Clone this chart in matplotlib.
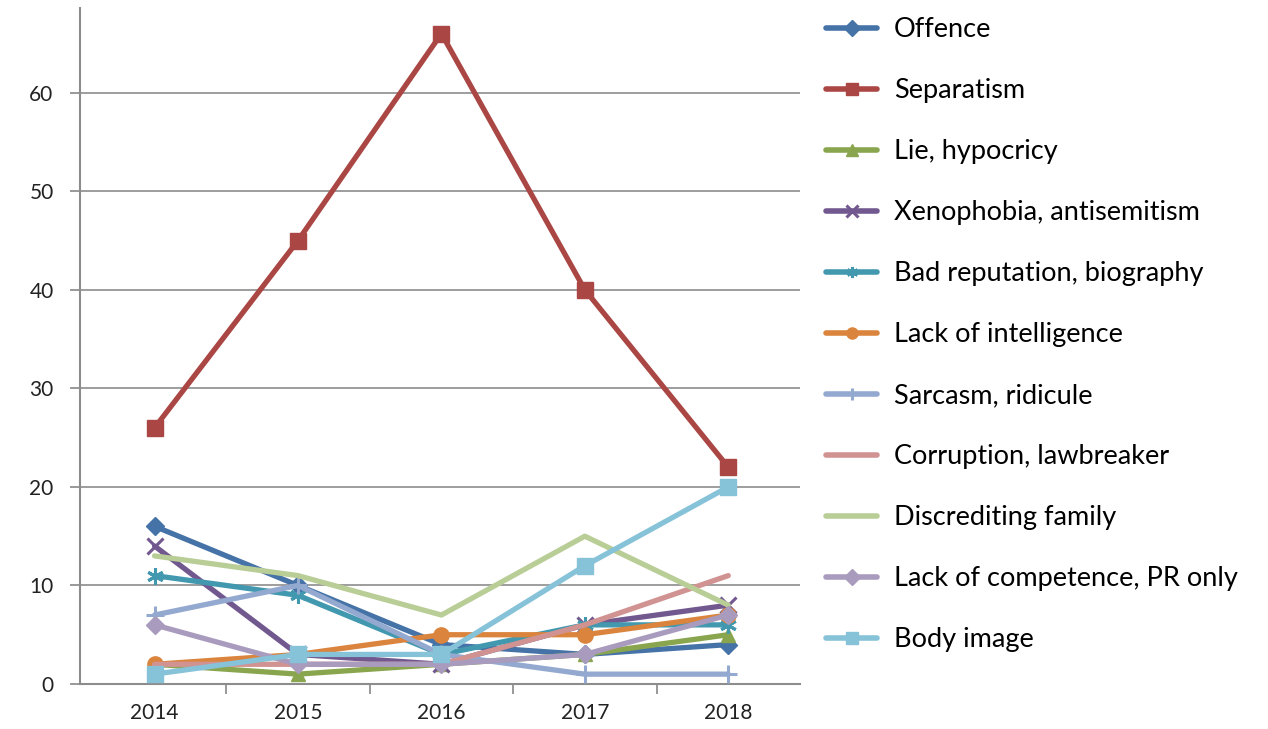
import matplotlib
matplotlib.use("Agg")
import matplotlib.pyplot as plt

years = ["2014", "2015", "2016", "2017", "2018"]
series_names = [
    "Offence", "Separatism", "Lie, hypocricy", "Xenophobia, antisemitism",
    "Bad reputation, biography", "Lack of intelligence", "Sarcasm, ridicule",
    "Corruption, lawbreaker", "Discrediting family",
    "Lack of competence, PR only", "Body image",
]
offence = [16, 10, 4, 3, 4]
separatism = [26, 45, 66, 40, 22]
lie = [2, 1, 2, 3, 5]
xenophobia = [14, 3, 2, 6, 8]
bad_reputation = [11, 9, 3, 6, 6]
lack_intelligence = [2, 3, 5, 5, 7]
sarcasm = [7, 10, 3, 1, 1]
corruption = [2, 2, 2, 6, 11]
discrediting_family = [13, 11, 7, 15, 8]
lack_competence = [6, 2, 2, 3, 7]
body_image = [1, 3, 3, 12, 20]

values = [offence, separatism, lie, xenophobia, bad_reputation,
          lack_intelligence, sarcasm, corruption, discrediting_family,
          lack_competence, body_image]
colors = ["#4572A7", "#AA4643", "#89A54E", "#71588F", "#4198AF", "#DB843D",
          "#93A9CF", "#D19392", "#B9CD96", "#A99BBD", "#86C2D8"]
markers = ["D", "s", "^", "x", (6, 2, 0), "o", "+", None, None, "D", "s"]
msizes = [9, 11, 10, 11, 12, 11, 13, 0, 0, 9, 11]

fig = plt.figure(figsize=(12.68, 7.29), dpi=100)
ax = fig.add_axes([80/1268, 45/729, 720/1268, 676/729])

x = list(range(len(years)))
handles = []
for name, vals, c, m, ms in zip(series_names, values, colors, markers, msizes):
    line, = ax.plot(x, vals, color=c, lw=3.8, marker=m, markersize=ms,
                    markeredgewidth=2.2 if m in ("x", "+", (6, 2, 0)) else 1,
                    markeredgecolor=c, markerfacecolor=c, label=name,
                    solid_capstyle="round", solid_joinstyle="round", zorder=3)
    handles.append(line)

ax.set_xlim(-0.52, 4.5)
ax.set_ylim(0, 68.6)
ax.set_yticks(range(0, 61, 10))
ax.set_xticks(x)
ax.set_xticklabels(years)
ax.set_xticks([0.5, 1.5, 2.5, 3.5], minor=True)
ax.tick_params(axis="x", which="major", length=0, pad=14, labelsize=15)
ax.tick_params(axis="x", which="minor", length=7, color="#888888", width=1.2)
ax.tick_params(axis="y", length=7, color="#888888", width=1.2, labelsize=15, pad=12)
for lab in ax.get_xticklabels() + ax.get_yticklabels():
    lab.set_fontfamily("Lato")
    lab.set_color("#222222")
ax.grid(axis="y", color="#8c8c8c", lw=1.2, zorder=0)
ax.set_axisbelow(True)
for s in ["top", "right"]:
    ax.spines[s].set_visible(False)
for s in ["left", "bottom"]:
    ax.spines[s].set_color("#8c8c8c")
    ax.spines[s].set_linewidth(1.5)

leg = fig.legend(handles=handles, loc="upper left",
                 bbox_to_anchor=(826/1268, 1 - 17/729), frameon=False,
                 prop={"family": "Lato", "size": 19.5}, handlelength=1.9,
                 handletextpad=0.62, labelspacing=1.33, borderaxespad=0,
                 borderpad=0)
for h in leg.legend_handles:
    h.set_markersize(8)
    h.set_linewidth(4)

fig.savefig("out.png", dpi=100)
